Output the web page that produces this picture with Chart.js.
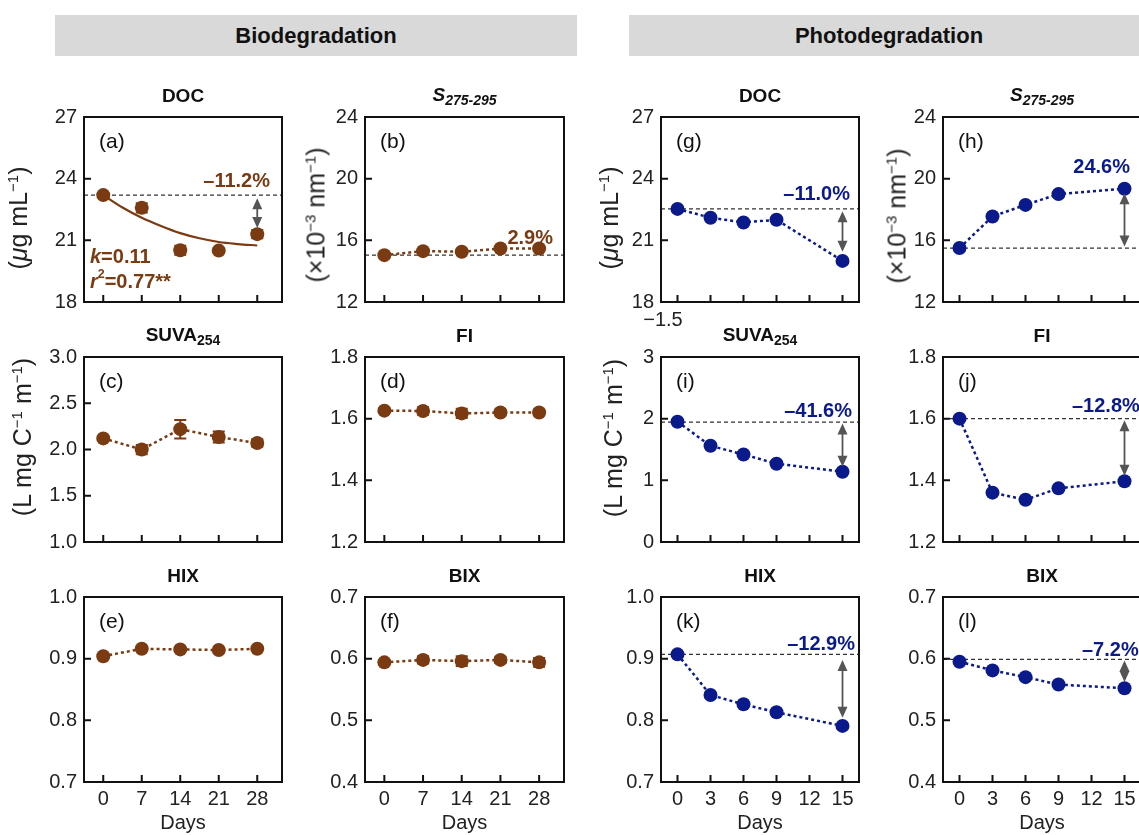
<!DOCTYPE html>
<html>
<head>
<meta charset="utf-8">
<script src="https://cdn.jsdelivr.net/npm/chart.js@4.4.1/dist/chart.umd.min.js"></script>
<style>
  body { margin: 0; background: #fff; }
  #fig { position: relative; width: 1139px; height: 835px; overflow: hidden; background: #fff;
         font-family: "Liberation Sans", Arial, Helvetica, sans-serif; color: #111; }
  .hdr { position: absolute; background: #d9d9d9; font-weight: bold; font-size: 22px;
         display: flex; align-items: center; justify-content: center; }
  .ttl { position: absolute; font-weight: bold; font-size: 19px; transform: translate(-50%, -50%); white-space: nowrap; }
  .ttl sub { font-size: 14px; vertical-align: -4px; }
  .ytl { position: absolute; font-size: 25px; transform: translate(-50%, -50%) rotate(-90deg); white-space: nowrap; color: #222; }
  .ytl sup { font-size: 15px; vertical-align: 9px; }
  .art { position: absolute; font-size: 20px; color: #222; transform: translate(-50%, -50%); }
  canvas { position: absolute; }
</style>
</head>
<body>
<div id="fig">
  <div class="hdr" style="left:55px;top:15px;width:522px;height:41px;">Biodegradation</div>
  <div class="hdr" style="left:629px;top:15px;width:520px;height:41px;">Photodegradation</div>
</div>
<script>
const FONT = '"Liberation Sans", Arial, Helvetica, sans-serif';
Chart.defaults.font.family = FONT;

const BROWN = '#7a3b12';
const BLUE = '#0b1a8b';

// x axes
const bioDays = [0, 7, 14, 21, 28];
const photoDays = [0, 3, 6, 9, 15];
const bioTicksX = [0, 7, 14, 21, 28];
const photoTicksX = [0, 3, 6, 9, 12, 15];

// y ticks
const ticksDOC = [18, 21, 24, 27];
const ticksS = [12, 16, 20, 24];
const ticksSUVAbio = [1.0, 1.5, 2.0, 2.5, 3.0];
const ticksSUVAphoto = [0, 1, 2, 3];
const ticksFI = [1.2, 1.4, 1.6, 1.8];
const ticksHIX = [0.7, 0.8, 0.9, 1.0];
const ticksBIX = [0.4, 0.5, 0.6, 0.7];

// biodegradation
const bioDOC = [23.2, 22.58, 20.52, 20.5, 21.3];
const bioDOCErr = [0.1, 0.22, 0.22, 0.1, 0.2];
const bioDOCFitDays = [0, 3.5, 7, 10.5, 14, 17.5, 21, 24.5, 28];
const bioDOCFit = [23.2, 22.6, 22.1, 21.7, 21.35, 21.1, 20.92, 20.82, 20.75];
const bioS = [15.04, 15.3, 15.26, 15.47, 15.47];
const bioSUVA = [2.12, 2.0, 2.22, 2.135, 2.07];
const bioSUVAErr = [0.02, 0.05, 0.1, 0.06, 0.04];
const bioFI = [1.626, 1.625, 1.617, 1.62, 1.62];
const bioFIErr = [0.008, 0.012, 0.015, 0.01, 0.01];
const bioHIX = [0.904, 0.916, 0.915, 0.914, 0.916];
const bioBIX = [0.594, 0.598, 0.596, 0.598, 0.594];
const bioBIXErr = [0.004, 0.006, 0.008, 0.005, 0.007];

// photodegradation
const photoDOC = [22.53, 22.1, 21.87, 22.0, 20.0];
const photoS = [15.5, 17.55, 18.3, 19.0, 19.35];
const photoSUVA = [1.95, 1.56, 1.42, 1.27, 1.14];
const photoFI = [1.60, 1.36, 1.337, 1.374, 1.397];
const photoHIX = [0.907, 0.841, 0.826, 0.813, 0.791];
const photoBIX = [0.595, 0.581, 0.570, 0.558, 0.552];

const colLeft = [84, 365, 661, 943];
const colWidth = [198, 199, 198, 198];
const rowTop = [113, 353, 593];
const PH = 189;

const panels = [
  { id: '(a)', col: 0, row: 0, title: 'DOC', days: bioDays, vals: bioDOC, err: bioDOCErr, line: false,
    fit: [bioDOCFitDays, bioDOCFit], color: BROWN, yTicks: ticksDOC, dec: 0, base: 23.2, arrow: [28, 23.05, 21.6],
    labels: [{ segs: [['–11.2%', '']], x: 186, y: 64, align: 'right' },
             { segs: [['k', 'i'], ['=0.11', '']], x: 6, y: 140, align: 'left' },
             { segs: [['r', 'i'], ['2', 'sup'], ['=0.77**', '']], x: 6, y: 165, align: 'left' }] },
  { id: '(b)', col: 1, row: 0, title: 'S', days: bioDays, vals: bioS, color: BROWN, yTicks: ticksS, dec: 0, base: 15.04,
    labels: [{ segs: [['2.9%', '']], x: 188, y: 121, align: 'right' }] },
  { id: '(c)', col: 0, row: 1, title: 'SUVA', days: bioDays, vals: bioSUVA, err: bioSUVAErr, color: BROWN, yTicks: ticksSUVAbio, dec: 1 },
  { id: '(d)', col: 1, row: 1, title: 'FI', days: bioDays, vals: bioFI, err: bioFIErr, color: BROWN, yTicks: ticksFI, dec: 1 },
  { id: '(e)', col: 0, row: 2, title: 'HIX', days: bioDays, vals: bioHIX, color: BROWN, yTicks: ticksHIX, dec: 1 },
  { id: '(f)', col: 1, row: 2, title: 'BIX', days: bioDays, vals: bioBIX, err: bioBIXErr, color: BROWN, yTicks: ticksBIX, dec: 1 },
  { id: '(g)', col: 2, row: 0, title: 'DOC', days: photoDays, vals: photoDOC, color: BLUE, yTicks: ticksDOC, dec: 0, base: 22.53, arrow: [15, 22.42, 20.45],
    labels: [{ segs: [['–11.0%', '']], x: 189, y: 77, align: 'right' }] },
  { id: '(h)', col: 3, row: 0, title: 'S', days: photoDays, vals: photoS, color: BLUE, yTicks: ticksS, dec: 0, base: 15.5, arrow: [15, 19.05, 15.6],
    labels: [{ segs: [['24.6%', '']], x: 187, y: 50, align: 'right' }] },
  { id: '(i)', col: 2, row: 1, title: 'SUVA', days: photoDays, vals: photoSUVA, color: BLUE, yTicks: ticksSUVAphoto, dec: 0, base: 1.945, arrow: [15, 1.92, 1.22],
    labels: [{ segs: [['–41.6%', '']], x: 191, y: 54, align: 'right' }] },
  { id: '(j)', col: 3, row: 1, title: 'FI', days: photoDays, vals: photoFI, color: BLUE, yTicks: ticksFI, dec: 1, base: 1.60, arrow: [15, 1.595, 1.415],
    labels: [{ segs: [['–12.8%', '']], x: 129, y: 49, align: 'left' }] },
  { id: '(k)', col: 2, row: 2, title: 'HIX', days: photoDays, vals: photoHIX, color: BLUE, yTicks: ticksHIX, dec: 1, base: 0.907, arrow: [15, 0.898, 0.804],
    labels: [{ segs: [['–12.9%', '']], x: 194, y: 47, align: 'right' }] },
  { id: '(l)', col: 3, row: 2, title: 'BIX', days: photoDays, vals: photoBIX, color: BLUE, yTicks: ticksBIX, dec: 1, base: 0.599, arrow: [15, 0.597, 0.562],
    labels: [{ segs: [['–7.2%', '']], x: 139, y: 53, align: 'left' }] }
];

function drawSegs(ctx, segs, x, y, align, color, size) {
  const parts = segs.map(([t, st]) => {
    const fs = st === 'sup' ? size * 0.62 : size;
    const font = (st === 'i' ? 'italic ' : '') + 'bold ' + fs + 'px ' + FONT;
    ctx.font = font;
    return { t, font, w: ctx.measureText(t).width, dy: st === 'sup' ? -size * 0.38 : 0 };
  });
  const total = parts.reduce((s, q) => s + q.w, 0);
  let cx = align === 'right' ? x - total : x;
  ctx.fillStyle = color;
  ctx.textBaseline = 'middle';
  ctx.textAlign = 'left';
  parts.forEach(q => { ctx.font = q.font; ctx.fillText(q.t, cx, y + q.dy); cx += q.w; });
}

function arrowHead(ctx, x, y, dir) {
  ctx.beginPath();
  ctx.moveTo(x, y);
  ctx.lineTo(x - 5, y + dir * 11);
  ctx.lineTo(x + 5, y + dir * 11);
  ctx.closePath();
  ctx.fill();
}

const decor = {
  id: 'decor',
  beforeDatasetsDraw(chart) {
    const p = chart.options.plugins.decor;
    if (!p || !p.err) return;
    const ctx = chart.ctx, xs = chart.scales.x, ys = chart.scales.y;
    ctx.save();
    ctx.strokeStyle = p.color;
    ctx.lineWidth = 2;
    p.days.forEach((d, i) => {
      const x = xs.getPixelForValue(d);
      const y1 = ys.getPixelForValue(p.vals[i] - p.err[i]);
      const y2 = ys.getPixelForValue(p.vals[i] + p.err[i]);
      ctx.beginPath();
      ctx.moveTo(x, y1); ctx.lineTo(x, y2);
      ctx.moveTo(x - 6, y1); ctx.lineTo(x + 6, y1);
      ctx.moveTo(x - 6, y2); ctx.lineTo(x + 6, y2);
      ctx.stroke();
    });
    ctx.restore();
  },
  afterDraw(chart) {
    const p = chart.options.plugins.decor;
    if (!p) return;
    const ctx = chart.ctx, a = chart.chartArea, xs = chart.scales.x, ys = chart.scales.y;
    ctx.save();
    // frame and inward ticks
    ctx.strokeStyle = '#111';
    ctx.lineWidth = 2;
    ctx.strokeRect(a.left, a.top, a.right - a.left, a.bottom - a.top);
    ctx.beginPath();
    p.xTicks.forEach(v => {
      const x = xs.getPixelForValue(v);
      ctx.moveTo(x, a.bottom); ctx.lineTo(x, a.bottom - 7);
    });
    p.yTicks.forEach(v => {
      const y = ys.getPixelForValue(v);
      ctx.moveTo(a.left, y); ctx.lineTo(a.left + 7, y);
    });
    ctx.stroke();
    // double arrow
    if (p.arrow) {
      const x = xs.getPixelForValue(p.arrow[0]);
      const yA = ys.getPixelForValue(p.arrow[1]);
      const yB = ys.getPixelForValue(p.arrow[2]);
      const top = Math.min(yA, yB), bot = Math.max(yA, yB);
      ctx.strokeStyle = '#555';
      ctx.fillStyle = '#555';
      ctx.lineWidth = 1.8;
      ctx.beginPath(); ctx.moveTo(x, top + 6); ctx.lineTo(x, bot - 6); ctx.stroke();
      arrowHead(ctx, x, top, 1);
      arrowHead(ctx, x, bot, -1);
    }
    // panel letter
    ctx.fillStyle = '#111';
    ctx.font = '21px ' + FONT;
    ctx.textAlign = 'left';
    ctx.textBaseline = 'middle';
    ctx.fillText(p.letter, a.left + 15, a.top + 25);
    // annotations
    (p.labels || []).forEach(l => drawSegs(ctx, l.segs, a.left + l.x, a.top + l.y, l.align, p.color, 20));
    ctx.restore();
  }
};
Chart.register(decor);

const fig = document.getElementById('fig');

function addDiv(cls, html, x, y) {
  const d = document.createElement('div');
  d.className = cls;
  d.innerHTML = html;
  d.style.left = x + 'px';
  d.style.top = y + 'px';
  fig.appendChild(d);
}

panels.forEach(p => {
  const left = colLeft[p.col], top = rowTop[p.row], W = colWidth[p.col];
  const photo = p.col >= 2;
  const xr = photo ? [-1.5, 16.5] : [-3.5, 32.5];
  const xTicks = photo ? photoTicksX : bioTicksX;

  const cv = document.createElement('canvas');
  cv.width = W + 100;
  cv.height = PH + 75;
  cv.style.left = (left - 80) + 'px';
  cv.style.top = (top - 15) + 'px';
  fig.appendChild(cv);

  const datasets = [{
    data: p.days.map((d, i) => ({ x: d, y: p.vals[i] })),
    showLine: p.line !== false,
    borderColor: p.color,
    borderWidth: 2.5,
    borderDash: [3, 3],
    pointRadius: 7,
    pointHoverRadius: 7,
    pointBackgroundColor: p.color,
    pointBorderWidth: 0
  }];
  if (p.fit) {
    datasets.push({
      data: p.fit[0].map((d, i) => ({ x: d, y: p.fit[1][i] })),
      borderColor: p.color, borderWidth: 2.2, pointRadius: 0, cubicInterpolationMode: 'monotone'
    });
  }
  if (p.base != null) {
    datasets.push({
      data: [{ x: xr[0], y: p.base }, { x: xr[1], y: p.base }],
      borderColor: '#333', borderWidth: 1.3, borderDash: [4, 3], pointRadius: 0
    });
  }

  const lastRow = p.row === 2;
  new Chart(cv, {
    type: 'line',
    data: { datasets },
    options: {
      responsive: false,
      animation: false,
      events: [],
      layout: { padding: { top: 15, right: 20, left: 0, bottom: 0 } },
      plugins: {
        legend: { display: false },
        tooltip: { enabled: false },
        decor: { letter: p.id, color: p.color, days: p.days, vals: p.vals, err: p.err,
                 arrow: p.arrow, labels: p.labels, xTicks, yTicks: p.yTicks }
      },
      scales: {
        x: {
          type: 'linear', min: xr[0], max: xr[1],
          afterBuildTicks: s => { s.ticks = xTicks.map(v => ({ value: v })); },
          afterFit: s => { s.height = 60; },
          grid: { display: false, drawTicks: false },
          border: { display: false },
          ticks: { display: lastRow, color: '#222', font: { size: 20 }, padding: 5,
                   autoSkip: false, maxRotation: 0, callback: v => String(v) },
          title: { display: lastRow, text: 'Days', color: '#222', font: { size: 20 }, padding: { top: 0, bottom: 7 } }
        },
        y: {
          min: p.yTicks[0], max: p.yTicks[p.yTicks.length - 1],
          afterBuildTicks: s => { s.ticks = p.yTicks.map(v => ({ value: v })); },
          afterFit: s => { s.width = 80; },
          grid: { display: false, drawTicks: false },
          border: { display: false },
          ticks: { color: '#222', font: { size: 20 }, padding: 7, autoSkip: false,
                   callback: v => Number(v).toFixed(p.dec) }
        }
      }
    }
  });

  // panel title
  let t = p.title;
  if (t === 'S') t = '<i>S</i><sub><i>275-295</i></sub>';
  if (t === 'SUVA') t = 'SUVA<sub>254</sub>';
  addDiv('ttl', t, left + W / 2, top - 17);
});

// y axis titles
addDiv('ytl', '(<i>μ</i>g mL<sup>−1</sup>)', 18, 218);
addDiv('ytl', '(×10<sup>−3</sup> nm<sup>−1</sup>)', 316, 215);
addDiv('ytl', '(L mg C<sup>−1</sup> m<sup>−1</sup>)', 22, 437);
addDiv('ytl', '(<i>μ</i>g mL<sup>−1</sup>)', 609, 218);
addDiv('ytl', '(×10<sup>−3</sup> nm<sup>−1</sup>)', 897, 216);
addDiv('ytl', '(L mg C<sup>−1</sup> m<sup>−1</sup>)', 613, 438);
// stray axis-minimum label under panel (g)
addDiv('art', '−1.5', 663, 319);
</script>
</body>
</html>
